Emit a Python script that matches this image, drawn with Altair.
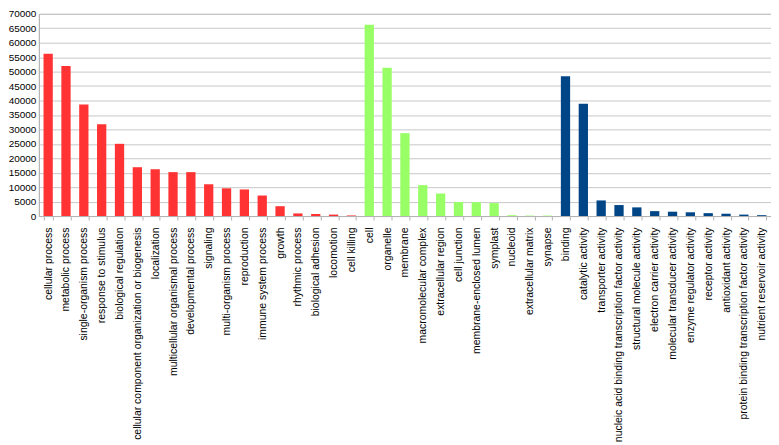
import altair as alt
import pandas as pd

bp_terms = ["cellular process", "metabolic process", "single-organism process", "response to stimulus",
            "biological regulation", "cellular component organization or biogenesis", "localization",
            "multicellular organismal process", "developmental process", "signaling",
            "multi-organism process", "reproduction", "immune system process", "growth",
            "rhythmic process", "biological adhesion", "locomotion", "cell killing"]
bp_values = [56200, 51900, 38600, 31800, 25000, 16900, 16200, 15200, 15200, 11000,
             9600, 9200, 7100, 3400, 900, 700, 500, 200]

cc_terms = ["cell", "organelle", "membrane", "macromolecular complex", "extracellular region",
            "cell junction", "membrane-enclosed lumen", "symplast", "nucleoid",
            "extracellular matrix", "synapse"]
cc_values = [66200, 51300, 28700, 10700, 7800, 4850, 4800, 4500, 300, 150, 150]

mf_terms = ["binding", "catalytic activity", "transporter activity",
            "nucleic acid binding transcription factor activity", "structural molecule activity",
            "electron carrier activity", "molecular transducer activity", "enzyme regulator activity",
            "receptor activity", "antioxidant activity", "protein binding transcription factor activity",
            "nutrient reservoir activity"]
mf_values = [48400, 38900, 5400, 3800, 3000, 1700, 1500, 1300, 1000, 800, 500, 300]

groups = ["BP", "CC", "MF"]
group_colors = ["#ff3333", "#99ff66", "#004586"]
y_ticks = list(range(0, 70001, 5000))

rows = []
for g, terms, vals in zip(groups, [bp_terms, cc_terms, mf_terms], [bp_values, cc_values, mf_values]):
    for t, v in zip(terms, vals):
        rows.append({"term": t, "count": v, "group": g})
df = pd.DataFrame(rows)
order = bp_terms + cc_terms + mf_terms

chart = alt.Chart(df).mark_bar().encode(
    x=alt.X("term:N", sort=order, title=None,
            scale=alt.Scale(paddingInner=0.48, paddingOuter=0.26),
            axis=alt.Axis(labelAngle=-90, labelFontSize=10.5, labelFont="Liberation Sans",
                          labelColor="#000000", tickBand="extent", tickSize=4,
                          tickColor="#b3b3b3", domainColor="#b3b3b3", labelPadding=7,
                          labelLimit=400, grid=False)),
    y=alt.Y("count:Q", title=None,
            scale=alt.Scale(domain=[0, 70000], nice=False),
            axis=alt.Axis(values=y_ticks, labelFontSize=10, labelFont="Liberation Sans",
                          labelColor="#000000", ticks=False, labelPadding=3,
                          domainColor="#b3b3b3", gridColor="#c8c8c8", format="d")),
    color=alt.Color("group:N", scale=alt.Scale(domain=groups, range=group_colors), legend=None),
).properties(
    width=735, height=203,
    padding={"left": 0, "top": 0, "right": 0, "bottom": 0},
).configure_view(
    stroke="#b3b3b3"
)

chart.save("out.html", embed_options={"renderer": "svg", "actions": False})
